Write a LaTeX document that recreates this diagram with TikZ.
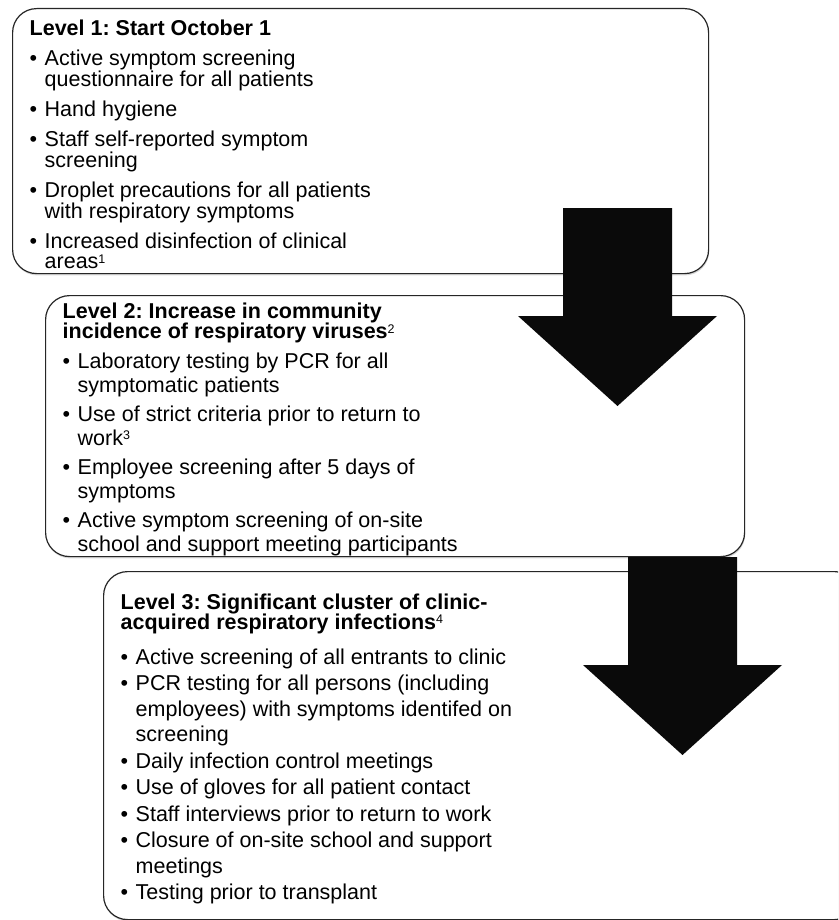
\documentclass[tikz,border=0pt]{standalone}
\usepackage{fontspec}
\setmainfont{Liberation Sans}
\usepackage{tikz}
\usetikzlibrary{positioning,shadows}
\frenchspacing

\tikzset{
  lvbox/.style={draw=black!85, line width=1.2pt, rounded corners=24pt, fill=white,
    inner sep=0pt, anchor=north west,
    drop shadow={shadow xshift=0.6pt, shadow yshift=-1.8pt, opacity=0.3}},
  lvtext/.style={anchor=north west, inner sep=0pt, align=left, text=black},
  blockarrow/.style={fill=black!96}
}
\newcommand{\lvbul}{\makebox[15pt][l]{\textbullet}}
\newcommand{\lvind}{\hspace*{15pt}}
\newcommand{\lvtop}{\rule{0pt}{16pt}}
\newcommand{\lvsup}[1]{\raisebox{5.5pt}{\fontsize{12.5}{12.5}\selectfont\mdseries #1}}

\begin{document}
\begin{tikzpicture}[x=1pt, y=-1pt]
\useasboundingbox (0,0) rectangle (838,920);
\begin{scope}
\clip (0,0) rectangle (838,920);

%% the three level boxes
\path
(12,8) node[lvbox, minimum width=696pt, minimum height=265pt](boxone){}
(45,295) node[lvbox, minimum width=699pt, minimum height=261pt](boxtwo){}
(103,571) node[lvbox, minimum width=755pt, minimum height=348pt](boxthree){};

%% big arrows between the levels
\coordinate (arrowone) at (563,208);
\coordinate (arrowtwo) at (628,557);
\fill[blockarrow] (arrowone) -- ++(109,0) -- ++(0,108) -- ++(45,0) -- ++(-99.5,90)
  -- ++(-99.5,-90) -- ++(45,0) -- cycle;
\fill[blockarrow] (arrowtwo) -- ++(109,0) -- ++(0,108) -- ++(45,0) -- ++(-99.5,90)
  -- ++(-99.5,-90) -- ++(45,0) -- cycle;

%% texts of the boxes
\node[lvtext, font=\fontsize{21.5}{20}\selectfont] (txtone)
  at ([xshift=17.5pt,yshift=-11.5pt]boxone.north west)
  {\lvtop\textbf{Level 1: Start October 1}\\[10pt]
  \lvbul Active symptom screening\\
  \lvind questionnaire for all patients\\[9pt]
  \lvbul Hand hygiene\\[9pt]
  \lvbul Staff self-reported symptom\\
  \lvind screening\\[9pt]
  \lvbul Droplet precautions for all patients\\
  \lvind with respiratory symptoms\\[9pt]
  \lvbul Increased disinfection of clinical\\
  \lvind areas\lvsup{1}};

\node[lvtext, font=\fontsize{21.5}{24}\selectfont] (txttwo)
  at ([xshift=17.5pt,yshift=-7pt]boxtwo.north west)
  {\lvtop\textbf{Level 2: Increase in community}\\[-3.5pt]
  \textbf{incidence of respiratory viruses}\lvsup{2}\\[5.5pt]
  \lvbul Laboratory testing by PCR for all\\
  \lvind symptomatic patients\\[5pt]
  \lvbul Use of strict criteria prior to return to\\
  \lvind work\lvsup{3}\\[5pt]
  \lvbul Employee screening after 5 days of\\
  \lvind symptoms\\[5pt]
  \lvbul Active symptom screening of on-site\\
  \lvind school and support meeting participants};

\node[lvtext, font=\fontsize{21.5}{25.5}\selectfont] (txtthree)
  at ([xshift=17.5pt,yshift=-22pt]boxthree.north west)
  {\lvtop\textbf{Level 3: Significant cluster of clinic-}\\[-5.5pt]
  \textbf{acquired respiratory infections}\lvsup{4}\\[9.5pt]
  \lvbul Active screening of all entrants to clinic\\[1pt]
  \lvbul PCR testing for all persons (including\\
  \lvind employees) with symptoms identifed on\\
  \lvind screening\\[1pt]
  \lvbul Daily infection control meetings\\[1pt]
  \lvbul Use of gloves for all patient contact\\[1pt]
  \lvbul Staff interviews prior to return to work\\[1pt]
  \lvbul Closure of on-site school and support\\
  \lvind meetings\\[1pt]
  \lvbul Testing prior to transplant};

\end{scope}
\end{tikzpicture}
\end{document}
